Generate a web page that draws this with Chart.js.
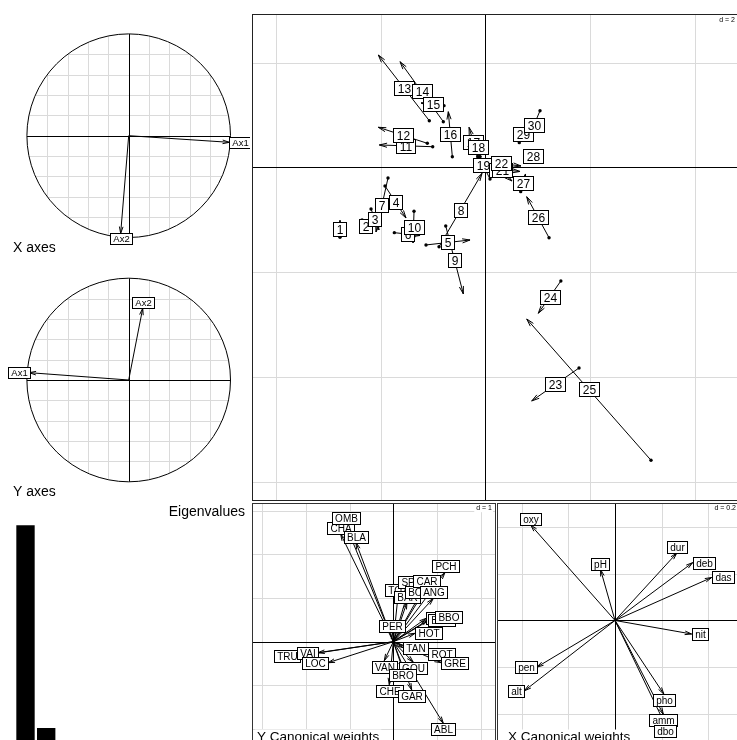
<!DOCTYPE html>
<html><head><meta charset="utf-8">
<script src="https://cdn.jsdelivr.net/npm/chart.js@4"></script>
<style>
html,body{margin:0;padding:0;background:#fff;overflow:hidden;width:737px;height:740px}
#wrap{position:relative;width:737px;height:740px;overflow:hidden;background:#fff}
canvas{position:absolute}
</style></head><body><div id="wrap"></div>
<script>
// ---------- DATA ----------
// Rows (sites): start point (dot) and end point (arrow head)
const siteLabels = ['1','2','3','4','5','6','7','8','9','10','11','12','13','14','15','16','17','18','19','20','21','22','23','24','25','26','27','28','29','30'];
const siteX1 = [-2.776,-2.355,-2.183,-1.916,-1.133,-1.738,-1.859,-0.884,-0.756,-1.362,-1.005,-1.108,-1.070,-0.802,-0.789,-0.630,-0.145,-0.101,0.090,0.013,-0.044,-0.101,1.790,1.443,3.165,1.217,0.676,0.917,0.649,1.045];
const siteY1 = [-1.333,-1.003,-0.793,-0.353,-1.480,-1.245,-0.201,-1.513,-1.117,-0.837,0.397,0.462,0.894,0.875,1.181,0.206,0.206,0.206,-0.220,0.143,-0.010,0.124,-3.830,-2.168,-5.593,-1.341,-0.462,0.225,0.474,1.085];
const siteX2 = [-2.776,-2.222,-2.031,-1.515,-0.292,-1.247,-2.088,-0.063,-0.420,-1.381,-2.025,-2.044,-2.044,-1.629,-1.228,-0.707,-0.311,-0.164,-0.178,0.510,0.663,0.682,0.886,1.012,0.791,0.791,0.768,0.917,0.777,0.816];
const siteY2 = [-1.009,-1.232,-1.194,-0.965,-1.385,-1.299,-1.232,-0.111,-2.416,-1.442,0.430,0.768,2.149,2.021,1.232,1.066,0.768,0.564,0.315,-0.258,-0.076,0.029,-4.460,-2.785,-2.894,-0.558,-0.124,0.225,0.806,0.539];

// Y canonical weights (species)
const yVarLabels = ['CHA','TRU','VAI','LOC','OMB','BLA','HOT','TOX','VAN','CHE','BAR','SPI','GOU','BRO','PER','BOU','PSO','ROT','CAR','TAN','BCO','PCH','GRE','GAR','BBO','ABL','ANG'];
const yVarX = [-1.204,-2.142,-1.725,-1.492,-1.089,-0.854,0.497,0.108,-0.206,-0.092,0.313,0.366,0.458,0.215,-0.02,0.572,0.751,0.801,0.764,0.220,0.794,1.183,1.098,0.421,0.952,1.144,0.915];
const yVarY = [2.465,-0.320,-0.252,-0.481,2.682,2.270,0.192,1.046,-0.435,-0.984,0.897,1.240,-0.470,-0.625,0.222,1.011,0.535,-0.284,1.252,-0.137,0.497,1.584,-0.481,-1.105,0.572,-1.867,0.989];

// X canonical weights (environment)
const xVarLabels = ['das','alt','pen','deb','pH','dur','pho','nit','amm','oxy','dbo'];
const xVarX = [0.414,-0.388,-0.335,0.333,-0.062,0.265,0.209,0.328,0.207,-0.361,0.216];
const xVarY = [0.184,-0.301,-0.200,0.248,0.218,0.289,-0.315,-0.058,-0.402,0.409,-0.448];

// Axes projections
const axLabels = ['Ax1','Ax2'];
const xAxesX = [0.989,-0.079];
const xAxesY = [-0.065,-0.960];
const yAxesX = [-0.977,0.138];
const yAxesY = [0.072,0.705];

// Eigenvalues (relative)
const eigenValues = [1.0, 0.076];

// Grid tick values
const mainGridX = [-4,-2,0,2,4];
const mainGridY = [2,0,-2,-4,-6];
const yPanelGridX = [-3,-2,-1,0,1,2];
const yPanelGridY = [3,2,1,0,-1,-2];
const xPanelGridX = [-0.4,-0.2,0,0.2,0.4];
const xPanelGridY = [0.4,0.2,0,-0.2,-0.4];
const circleGrid = [-0.8,-0.6,-0.4,-0.2,0,0.2,0.4,0.6,0.8];

// ---------- HELPERS ----------
const FONT = '"Liberation Sans", Arial, Helvetica, sans-serif';
const GRID = '#dadada';

function mkCanvas(left, top, w, h){
  const c = document.createElement('canvas');
  c.width = w; c.height = h;
  c.style.left = left+'px'; c.style.top = top+'px';
  c.style.width = w+'px'; c.style.height = h+'px';
  document.getElementById('wrap').appendChild(c);
  return c;
}
function arrowHead(ctx, x0, y0, x1, y1, len, ang){
  if (Math.hypot(x1-x0, y1-y0) < 0.5) return;
  const a = Math.atan2(y1-y0, x1-x0);
  ctx.beginPath();
  ctx.moveTo(x1 - len*Math.cos(a-ang), y1 - len*Math.sin(a-ang));
  ctx.lineTo(x1, y1);
  ctx.lineTo(x1 - len*Math.cos(a+ang), y1 - len*Math.sin(a+ang));
  ctx.stroke();
}
function boxDims(ctx, text, size){
  ctx.font = size+'px '+FONT;
  return {w: ctx.measureText(' '+text+' ').width, yh: 0.6*size};
}
function labelBox(ctx, text, cx, cy, size){
  const d = boxDims(ctx, text, size);
  const x = Math.round(cx - d.w/2) + 0.5, y = Math.round(cy - d.yh) + 0.5;
  const w = Math.round(d.w), h = Math.round(2*d.yh);
  ctx.fillStyle = '#fff'; ctx.fillRect(x, y, w, h);
  ctx.strokeStyle = '#000'; ctx.lineWidth = 1; ctx.strokeRect(x, y, w, h);
  ctx.fillStyle = '#000'; ctx.textAlign = 'center'; ctx.textBaseline = 'alphabetic';
  ctx.fillText(text, x + w/2, y + h/2 + 0.36*size);
}
// ade4 scatterutil.eti.circ placement
function circLabel(ctx, text, tx, ty, ox, oy, size){
  const d = boxDims(ctx, text, size);
  const dx = tx - ox, dy = oy - ty;
  let cx = tx, cy = ty;
  if (dx > dy && dx > -dy) cx = tx + d.w/2;
  else if (dx > dy && dx <= -dy) cy = ty + d.yh;
  else if (dx <= dy && dx <= -dy) cx = tx - d.w/2;
  else cy = ty - d.yh;
  labelBox(ctx, text, cx, cy, size);
}
function cornerText(ctx, text, right, cy, size){
  ctx.font = size+'px '+FONT;
  const w = ctx.measureText(text).width;
  ctx.fillStyle = '#fff'; ctx.fillRect(right - w - 2, cy - size*0.6, w + 3, size*1.2);
  ctx.fillStyle = '#000'; ctx.textAlign = 'right'; ctx.textBaseline = 'middle';
  ctx.fillText(text, right, cy);
}
function subTitle(ctx, text, x, baseline, size){
  ctx.font = size+'px '+FONT;
  const w = ctx.measureText(text).width;
  ctx.fillStyle = '#fff'; ctx.fillRect(x - 2, baseline - size*0.85, w + 4, size*1.2);
  ctx.fillStyle = '#000'; ctx.textAlign = 'left'; ctx.textBaseline = 'alphabetic';
  ctx.fillText(text, x, baseline);
}
function hiddenScales(xr, yr){
  return {x: {type: 'linear', display: false, min: xr[0], max: xr[1]},
          y: {type: 'linear', display: false, min: yr[0], max: yr[1]}};
}
function baseOpts(scales){
  return {
    responsive: false, maintainAspectRatio: false, devicePixelRatio: 1,
    animation: false, events: [],
    layout: {padding: 0, autoPadding: false},
    plugins: {legend: {display: false}, tooltip: {enabled: false}},
    scales: scales
  };
}
// grid drawn from the chart's own scales
function drawGrid(chart, gx, gy){
  const ctx = chart.ctx, xs = chart.scales.x, ys = chart.scales.y, a = chart.chartArea;
  ctx.save();
  ctx.lineWidth = 1;
  const lines = (zero) => {
    gx.forEach(v => {
      if ((Math.abs(v) < 1e-9) !== zero) return;
      const p = Math.round(xs.getPixelForValue(v)) + 0.5;
      ctx.beginPath(); ctx.moveTo(p, a.top); ctx.lineTo(p, a.bottom); ctx.stroke();
    });
    gy.forEach(v => {
      if ((Math.abs(v) < 1e-9) !== zero) return;
      const p = Math.round(ys.getPixelForValue(v)) + 0.5;
      ctx.beginPath(); ctx.moveTo(a.left, p); ctx.lineTo(a.right, p); ctx.stroke();
    });
  };
  ctx.strokeStyle = GRID; lines(false);
  ctx.strokeStyle = '#000'; lines(true);
  ctx.restore();
}
function borderBox(ctx, area, color){
  ctx.strokeStyle = color; ctx.lineWidth = 1;
  ctx.strokeRect(area.left + 0.5, area.top + 0.5, area.right - area.left - 1, area.bottom - area.top - 1);
}

// ---------- MAIN PANEL (rows) ----------
(function(){
  const c = mkCanvas(252, 14, 487, 487);
  const ds = siteLabels.map((l, i) => ({
    data: [{x: siteX1[i], y: siteY1[i]}, {x: siteX2[i], y: siteY2[i]}],
    showLine: true, borderColor: '#000', borderWidth: 1,
    pointRadius: [1.7, 0], pointBackgroundColor: '#000', pointBorderWidth: 0
  }));
  const plug = {
    id: 'mainDeco',
    beforeDatasetsDraw(chart){ drawGrid(chart, mainGridX, mainGridY); },
    afterDatasetsDraw(chart){
      const ctx = chart.ctx, xs = chart.scales.x, ys = chart.scales.y;
      ctx.save();
      ctx.strokeStyle = '#000'; ctx.lineWidth = 1;
      for (let i = 0; i < siteLabels.length; i++){
        arrowHead(ctx, xs.getPixelForValue(siteX1[i]), ys.getPixelForValue(siteY1[i]),
          xs.getPixelForValue(siteX2[i]), ys.getPixelForValue(siteY2[i]), 8, 15*Math.PI/180);
      }
      for (let i = 0; i < siteLabels.length; i++){
        const mx = (xs.getPixelForValue(siteX1[i]) + xs.getPixelForValue(siteX2[i]))/2;
        const my = (ys.getPixelForValue(siteY1[i]) + ys.getPixelForValue(siteY2[i]))/2;
        labelBox(ctx, siteLabels[i], mx, my, 12);
      }
      cornerText(ctx, 'd = 2', 735 - 252, 6, 7);
      borderBox(ctx, chart.chartArea, '#222');
      ctx.restore();
    }
  };
  new Chart(c, {type: 'scatter', data: {datasets: ds},
    options: baseOpts(hiddenScales([-4.457, 4.846], [-6.371, 2.932])),
    plugins: [plug]});
})();

// ---------- ARROW PANELS ----------
function arrowPanel(left, top, w, h, xr, yr, gx, gy, labs, vx, vy, dtext, dRight, title, titleX){
  const c = mkCanvas(left, top, w, h);
  const ds = labs.map((l, i) => ({
    data: [{x: 0, y: 0}, {x: vx[i], y: vy[i]}],
    showLine: true, borderColor: '#000', borderWidth: 1, pointRadius: 0
  }));
  const plug = {
    id: 'arrowDeco',
    beforeDatasetsDraw(chart){ drawGrid(chart, gx, gy); },
    afterDatasetsDraw(chart){
      const ctx = chart.ctx, xs = chart.scales.x, ys = chart.scales.y;
      const ox = xs.getPixelForValue(0), oy = ys.getPixelForValue(0);
      ctx.save();
      ctx.strokeStyle = '#000'; ctx.lineWidth = 1;
      for (let i = 0; i < labs.length; i++)
        arrowHead(ctx, ox, oy, xs.getPixelForValue(vx[i]), ys.getPixelForValue(vy[i]), 7, 15*Math.PI/180);
      for (let i = 0; i < labs.length; i++)
        circLabel(ctx, labs[i], xs.getPixelForValue(vx[i]), ys.getPixelForValue(vy[i]), ox, oy, 10);
      cornerText(ctx, dtext, dRight, 5, 7);
      subTitle(ctx, title, titleX, 238, 13.5);
      borderBox(ctx, chart.chartArea, '#333');
      ctx.restore();
    }
  };
  new Chart(c, {type: 'scatter', data: {datasets: ds},
    options: baseOpts(hiddenScales(xr, yr)),
    plugins: [plug]});
}
arrowPanel(252, 503, 244, 250, [-3.233, 2.350], [-2.547, 3.174], yPanelGridX, yPanelGridY,
  yVarLabels, yVarX, yVarY, 'd = 1', 240, 'Y Canonical weights', 5);
arrowPanel(497, 503, 242, 250, [-0.5054, 0.531], [-0.5675, 0.503], xPanelGridX, xPanelGridY,
  xVarLabels, xVarX, xVarY, 'd = 0.2', 239, 'X Canonical weights', 11);

// ---------- CIRCLE PANELS ----------
function circlePanel(top, h, oy, vx, vy, title, titleBaseline){
  const c = mkCanvas(0, top, 250, h);
  const R = 101.8, ox = 128.7;
  const ds = axLabels.map((l, i) => ({
    data: [{x: 0, y: 0}, {x: vx[i], y: vy[i]}],
    showLine: true, borderColor: '#000', borderWidth: 1, pointRadius: 0
  }));
  const plug = {
    id: 'circleDeco',
    beforeDatasetsDraw(chart){
      const ctx = chart.ctx, xs = chart.scales.x, ys = chart.scales.y;
      const cx = xs.getPixelForValue(0), cy = ys.getPixelForValue(0);
      const r = xs.getPixelForValue(1) - cx;
      ctx.save();
      ctx.beginPath(); ctx.arc(cx, cy, r, 0, 2*Math.PI); ctx.clip();
      ctx.strokeStyle = GRID; ctx.lineWidth = 1;
      circleGrid.forEach(v => {
        if (Math.abs(v) < 1e-9) return;
        const px = Math.round(xs.getPixelForValue(v)) + 0.5;
        const py = Math.round(ys.getPixelForValue(v)) + 0.5;
        ctx.beginPath(); ctx.moveTo(px, cy - r); ctx.lineTo(px, cy + r); ctx.stroke();
        ctx.beginPath(); ctx.moveTo(cx - r, py); ctx.lineTo(cx + r, py); ctx.stroke();
      });
      ctx.strokeStyle = '#000';
      const ax = Math.round(cx) + 0.5, ay = Math.round(cy) + 0.5;
      ctx.beginPath(); ctx.moveTo(ax, cy - r); ctx.lineTo(ax, cy + r); ctx.stroke();
      ctx.beginPath(); ctx.moveTo(cx - r, ay); ctx.lineTo(cx + r, ay); ctx.stroke();
      ctx.restore();
      ctx.save();
      ctx.strokeStyle = '#000'; ctx.lineWidth = 1;
      ctx.beginPath(); ctx.arc(cx, cy, r, 0, 2*Math.PI); ctx.stroke();
      ctx.restore();
    },
    afterDatasetsDraw(chart){
      const ctx = chart.ctx, xs = chart.scales.x, ys = chart.scales.y;
      const cx = xs.getPixelForValue(0), cy = ys.getPixelForValue(0);
      ctx.save();
      ctx.strokeStyle = '#000'; ctx.lineWidth = 1;
      for (let i = 0; i < axLabels.length; i++)
        arrowHead(ctx, cx, cy, xs.getPixelForValue(vx[i]), ys.getPixelForValue(vy[i]), 7, 15*Math.PI/180);
      for (let i = 0; i < axLabels.length; i++)
        circLabel(ctx, axLabels[i], xs.getPixelForValue(vx[i]), ys.getPixelForValue(vy[i]), cx, cy, 9.5);
      ctx.font = '14px ' + FONT; ctx.fillStyle = '#000';
      ctx.textAlign = 'left'; ctx.textBaseline = 'alphabetic';
      ctx.fillText(title, 13, titleBaseline);
      ctx.restore();
    }
  };
  const xmin = -ox/R, xmax = (250-ox)/R;
  const ymax = oy/R, ymin = (oy-h)/R;
  new Chart(c, {type: 'scatter', data: {datasets: ds},
    options: baseOpts(hiddenScales([xmin, xmax], [ymin, ymax])),
    plugins: [plug]});
}
circlePanel(0, 258, 135.7, xAxesX, xAxesY, 'X axes', 252);
circlePanel(250, 250, 130, yAxesX, yAxesY, 'Y axes', 246);

// ---------- EIGENVALUES ----------
(function(){
  const c = mkCanvas(0, 498, 250, 257);
  const plug = {
    id: 'eigText',
    afterDatasetsDraw(chart){
      const ctx = chart.ctx;
      ctx.save();
      ctx.font = '14px ' + FONT; ctx.fillStyle = '#000';
      ctx.textAlign = 'right'; ctx.textBaseline = 'middle';
      ctx.fillText('Eigenvalues', 245, 13.7);
      ctx.restore();
    }
  };
  new Chart(c, {type: 'bar',
    data: {datasets: [{data: eigenValues.map((v, i) => ({x: i + 1, y: v})),
      backgroundColor: '#000', borderWidth: 0, barThickness: 17.7}]},
    options: baseOpts({
      x: {type: 'linear', display: false, offset: false, grid: {offset: false}, min: -0.232, max: 11.845},
      y: {type: 'linear', display: false, min: -0.0456, max: 1.1263}
    }),
    plugins: [plug]});
})();
</script>
</body></html>
